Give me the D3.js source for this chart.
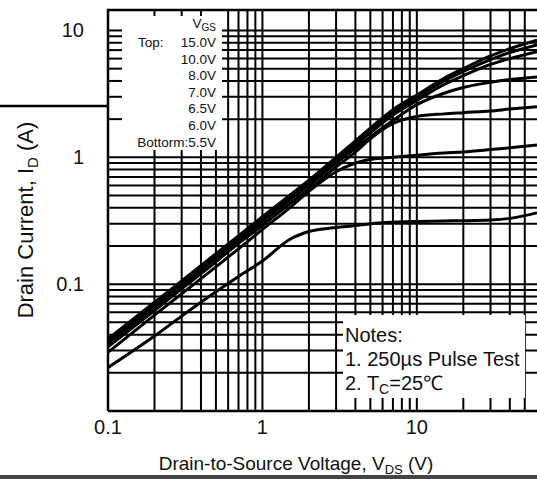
<!DOCTYPE html>
<html>
<head>
<meta charset="utf-8">
<script src="https://cdn.jsdelivr.net/npm/d3@7"></script>
<style>
  body { margin: 0; background: #fff; }
  text { font-family: "Liberation Sans", Arial, sans-serif; fill: #111; }
</style>
</head>
<body>
<div id="container"></div>
<script>
let w = 537;
let h = 479;

// drain-source voltage points (V) shared by all curves
let vds = [0.1, 0.2, 0.3, 0.5, 0.7, 1, 1.5, 2, 3, 4, 5, 7, 10, 15, 20, 30, 40, 60];

// drain current (A) per gate voltage
let id15 = [0.037, 0.072, 0.106, 0.174, 0.24, 0.34, 0.50, 0.66, 1.0, 1.35, 1.7, 2.37, 3.1, 4.2, 5.0, 6.3, 7.2, 8.4];
let id10 = [0.036, 0.070, 0.103, 0.170, 0.235, 0.33, 0.49, 0.64, 0.97, 1.3, 1.63, 2.25, 2.95, 4.0, 4.75, 5.9, 6.7, 7.7];
let id8 = [0.035, 0.068, 0.100, 0.165, 0.23, 0.32, 0.475, 0.62, 0.94, 1.25, 1.56, 2.15, 2.8, 3.75, 4.4, 5.4, 6.0, 6.8];
let id7 = [0.034, 0.066, 0.097, 0.160, 0.22, 0.31, 0.46, 0.60, 0.90, 1.18, 1.45, 1.95, 2.6, 3.2, 3.55, 3.9, 4.1, 4.3];
let id65 = [0.032, 0.062, 0.092, 0.150, 0.21, 0.29, 0.43, 0.56, 0.84, 1.1, 1.4, 1.85, 2.1, 2.2, 2.25, 2.32, 2.4, 2.5];
let id6 = [0.029, 0.057, 0.084, 0.137, 0.19, 0.27, 0.40, 0.54, 0.77, 0.90, 0.96, 1.0, 1.04, 1.08, 1.10, 1.15, 1.19, 1.25];
let id55 = [0.022, 0.039, 0.056, 0.087, 0.115, 0.152, 0.225, 0.26, 0.28, 0.29, 0.30, 0.308, 0.312, 0.315, 0.316, 0.32, 0.33, 0.365];

let seriesList = [id15, id10, id8, id7, id65, id6, id55];

let legendLabels = ["15.0V", "10.0V", "8.0V", "7.0V", "6.5V", "6.0V", "5.5V"];
let xLabels = [0.1, 1, 10];
let yLabels = [0.1, 1, 10];

let viz = d3.select("#container").append("svg")
    .attr("width", w)
    .attr("height", h);

let x = d3.scaleLog().domain([0.1, 60]).range([108, 537]);
let y = d3.scaleLog().domain([0.01, 14.5]).range([411, 10]);

// grid
let xTicks = x.ticks().filter(function(d){ return d < 59; });
let yTicks = y.ticks();

let grid = viz.append("g").attr("class", "grid")
    .attr("stroke", "#000").attr("stroke-width", 2);

grid.selectAll(".vl").data(xTicks).enter().append("line")
    .attr("x1", function(d){ return x(d); }).attr("x2", function(d){ return x(d); })
    .attr("y1", y.range()[1]).attr("y2", y.range()[0]);

grid.selectAll(".hl").data(yTicks).enter().append("line")
    .attr("x1", x.range()[0]).attr("x2", x.range()[1])
    .attr("y1", function(d){ return y(d); }).attr("y2", function(d){ return y(d); });

// white boxes for legend and notes
viz.append("rect").attr("x", 109).attr("y", 11).attr("width", 113).attr("height", 139).attr("fill", "#fff");
viz.append("rect").attr("x", 343).attr("y", 315).attr("width", 182).attr("height", 83).attr("fill", "#fff");

// short inner ticks on left and top edges (visible inside the legend box)
let ticks = viz.append("g").attr("stroke", "#000").attr("stroke-width", 2);
ticks.selectAll(".lt").data(yTicks.filter(function(d){ return d > 1; })).enter().append("line")
    .attr("x1", 108).attr("x2", 122)
    .attr("y1", function(d){ return y(d); }).attr("y2", function(d){ return y(d); });
ticks.selectAll(".tt").data(xTicks.filter(function(d){ return d < 0.5; })).enter().append("line")
    .attr("x1", function(d){ return x(d); }).attr("x2", function(d){ return x(d); })
    .attr("y1", 10).attr("y2", 16);

// frame
viz.append("path")
    .attr("d", "M108,411 L108,10 L537,10 M108,411 L537,411")
    .attr("fill", "none").attr("stroke", "#000").attr("stroke-width", 2.5);

// stray scan line left of the axis
viz.append("line").attr("x1", 0).attr("x2", 108).attr("y1", 106).attr("y2", 106)
    .attr("stroke", "#000").attr("stroke-width", 2.5);

// curves
let line = d3.line()
    .x(function(d){ return x(d[0]); })
    .y(function(d){ return y(d[1]); })
    .curve(d3.curveMonotoneX);

viz.append("g").selectAll("path").data(seriesList).enter().append("path")
    .attr("d", function(s){ return line(vds.map(function(v, i){ return [v, s[i]]; })); })
    .attr("fill", "none").attr("stroke", "#000").attr("stroke-width", 3);

// tick labels
viz.append("g").selectAll("text").data(xLabels).enter().append("text")
    .attr("x", function(d){ return x(d); }).attr("y", 434)
    .attr("text-anchor", "middle").attr("font-size", 20)
    .text(function(d){ return d; });

viz.append("g").selectAll("text").data(yLabels).enter().append("text")
    .attr("x", 84).attr("y", function(d){ return y(d); }).attr("dy", "0.35em")
    .attr("text-anchor", "end").attr("font-size", 20)
    .text(function(d){ return d; });

// axis titles
let xt = viz.append("text").attr("x", 296).attr("y", 470)
    .attr("text-anchor", "middle").attr("font-size", 19);
xt.append("tspan").text("Drain-to-Source Voltage, V");
xt.append("tspan").attr("font-size", 13).attr("dy", 4).text("DS");
xt.append("tspan").attr("dy", -4).text(" (V)");

let yt = viz.append("text").attr("transform", "translate(33,220) rotate(-90)")
    .attr("text-anchor", "middle").attr("font-size", 22);
yt.append("tspan").text("Drain Current, I");
yt.append("tspan").attr("font-size", 15).attr("dy", 5).text("D");
yt.append("tspan").attr("dy", -5).text(" (A)");

// legend
let lg = viz.append("g").attr("font-size", 13.5);
let vg = lg.append("text").attr("x", 216).attr("y", 28).attr("text-anchor", "end");
vg.append("tspan").text("V");
vg.append("tspan").attr("font-size", 10).attr("dy", 3).text("GS");
lg.append("text").attr("x", 138).attr("y", 47).text("Top:");
lg.selectAll(".lv").data(legendLabels.slice(0, 6)).enter().append("text")
    .attr("x", 216).attr("y", function(d, i){ return 47 + i * 16.5; })
    .attr("text-anchor", "end").text(function(d){ return d; });
lg.append("text").attr("x", 216).attr("y", 147).attr("text-anchor", "end")
    .text("Bottorm:" + legendLabels[6]);

// notes
let nt = viz.append("g").attr("font-size", 20);
nt.append("text").attr("x", 345).attr("y", 342).text("Notes:");
nt.append("text").attr("x", 345).attr("y", 366).text("1. 250µs Pulse Test");
let n2 = nt.append("text").attr("x", 345).attr("y", 390);
n2.append("tspan").text("2. T");
n2.append("tspan").attr("font-size", 14).attr("dy", 4).text("C");
n2.append("tspan").attr("dy", -4).text("=25℃");

// bottom bar
viz.append("rect").attr("x", 0).attr("y", 475).attr("width", w).attr("height", 4).attr("fill", "#444");
</script>
</body>
</html>
